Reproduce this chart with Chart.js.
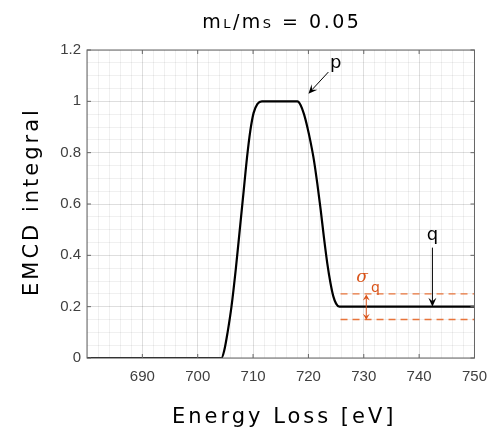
<!DOCTYPE html>
<html>
<head>
<meta charset="utf-8">
<script src="https://cdn.jsdelivr.net/npm/chart.js@4.4.1/dist/chart.umd.min.js"></script>
<style>
body { margin: 0; background: #fff; }
</style>
</head>
<body>
<canvas id="myChart" width="497" height="432"></canvas>
<script>
// data
var energy = [680, 690, 700, 704.3, 704.8, 705.4, 706.1, 706.9, 707.6, 708.3, 708.9, 709.5, 710.1, 710.8, 711.6,
              718.0, 718.6, 719.2, 719.8, 720.4, 721.0, 721.6, 722.2, 722.8, 723.4, 724.0, 724.5, 725.0, 725.6, 735, 750];
var emcd = [0, 0, 0, 0, 0.03, 0.10, 0.20, 0.35, 0.50, 0.65, 0.78, 0.885, 0.955, 0.99, 1.0,
            1.0, 0.985, 0.95, 0.90, 0.84, 0.77, 0.68, 0.58, 0.47, 0.37, 0.29, 0.24, 0.212, 0.2, 0.2, 0.2];

var sigmaX = [725.8, 750];
var sigmaUpper = [0.25, 0.25];
var sigmaLower = [0.15, 0.15];

var xTicks = [690, 700, 710, 720, 730, 740, 750];
var yTicks = [0, 0.2, 0.4, 0.6, 0.8, 1, 1.2];

var black = '#000';
var orange = '#D95319';

function toPoints(xs, ys) {
    var pts = [];
    for (let i = 0; i < xs.length; i++) {
        pts.push({ x: xs[i], y: ys[i] });
    }
    return pts;
}

function isMajor(v, step) {
    var r = v / step;
    return Math.abs(r - Math.round(r)) < 1e-6;
}

function arrow(ctx, x1, y1, x2, y2, color, len, wid) {
    var a = Math.atan2(y2 - y1, x2 - x1);
    ctx.strokeStyle = color;
    ctx.fillStyle = color;
    ctx.lineWidth = 1;
    ctx.beginPath();
    ctx.moveTo(x1, y1);
    ctx.lineTo(x2 - Math.cos(a) * len * 0.6, y2 - Math.sin(a) * len * 0.6);
    ctx.stroke();
    ctx.beginPath();
    ctx.moveTo(x2, y2);
    ctx.lineTo(x2 - Math.cos(a) * len + Math.sin(a) * wid / 2, y2 - Math.sin(a) * len - Math.cos(a) * wid / 2);
    ctx.lineTo(x2 - Math.cos(a) * len * 0.6, y2 - Math.sin(a) * len * 0.6);
    ctx.lineTo(x2 - Math.cos(a) * len - Math.sin(a) * wid / 2, y2 - Math.sin(a) * len + Math.cos(a) * wid / 2);
    ctx.closePath();
    ctx.fill();
}

// box, inner tick marks, titles and arrows
var decorations = {
    id: 'decorations',
    afterDatasetsDraw: function(chart) {
        var ctx = chart.ctx;
        var xs = chart.scales.x, ys = chart.scales.y;
        var a = chart.chartArea;
        ctx.save();

        // box
        ctx.strokeStyle = '#666';
        ctx.lineWidth = 1;
        ctx.strokeRect(a.left, a.top, a.right - a.left, a.bottom - a.top);

        // inner ticks
        ctx.beginPath();
        for (let i = 0; i < xTicks.length; i++) {
            var px = xs.getPixelForValue(xTicks[i]);
            ctx.moveTo(px, a.bottom); ctx.lineTo(px, a.bottom - 4);
            ctx.moveTo(px, a.top); ctx.lineTo(px, a.top + 4);
        }
        for (let i = 0; i < yTicks.length; i++) {
            var py = ys.getPixelForValue(yTicks[i]);
            ctx.moveTo(a.left, py); ctx.lineTo(a.left + 4, py);
            ctx.moveTo(a.right, py); ctx.lineTo(a.right - 4, py);
        }
        ctx.stroke();

        // p arrow
        arrow(ctx, xs.getPixelForValue(723.6), ys.getPixelForValue(1.114),
              xs.getPixelForValue(720.0), ys.getPixelForValue(1.03), black, 9, 8);
        ctx.fillStyle = black;
        ctx.font = '18px "DejaVu Sans"';
        ctx.textAlign = 'center';
        ctx.textBaseline = 'alphabetic';
        ctx.fillText('p', xs.getPixelForValue(724.95), ys.getPixelForValue(1.13));

        // q arrow
        arrow(ctx, xs.getPixelForValue(742.4), ys.getPixelForValue(0.43),
              xs.getPixelForValue(742.4), ys.getPixelForValue(0.2), black, 9, 8);
        ctx.fillStyle = black;
        ctx.fillText('q', xs.getPixelForValue(742.4), ys.getPixelForValue(0.46));

        // sigma q double arrow
        var sx = xs.getPixelForValue(730.45);
        var mid = ys.getPixelForValue(0.2);
        arrow(ctx, sx, mid, sx, ys.getPixelForValue(0.247), orange, 6, 7);
        arrow(ctx, sx, mid, sx, ys.getPixelForValue(0.149), orange, 6, 7);
        ctx.fillStyle = orange;
        ctx.font = 'italic 17px "DejaVu Serif"';
        ctx.fillText('\u03C3', xs.getPixelForValue(729.7), ys.getPixelForValue(0.298));
        ctx.font = '14px "DejaVu Sans"';
        ctx.fillText('q', xs.getPixelForValue(732.1), ys.getPixelForValue(0.258));

        ctx.restore();
    },
    afterDraw: function(chart) {
        var ctx = chart.ctx;
        var a = chart.chartArea;
        var cx = (a.left + a.right) / 2;
        ctx.save();
        ctx.fillStyle = '#000';
        ctx.textBaseline = 'alphabetic';

        // title with small caps L and S
        ctx.letterSpacing = '2.5px';
        var parts = [['m', 19], ['L', 13], ['/m', 19], ['S', 13], [' = 0.05', 19]];
        var total = 0;
        for (let i = 0; i < parts.length; i++) {
            ctx.font = parts[i][1] + 'px "DejaVu Sans"';
            total += ctx.measureText(parts[i][0]).width;
        }
        var x = cx - total / 2 + 1;
        ctx.textAlign = 'left';
        for (let i = 0; i < parts.length; i++) {
            ctx.font = parts[i][1] + 'px "DejaVu Sans"';
            ctx.fillText(parts[i][0], x, 28);
            x += ctx.measureText(parts[i][0]).width;
        }

        // axis titles
        ctx.letterSpacing = '3px';
        ctx.font = '21px "DejaVu Sans"';
        ctx.textAlign = 'center';
        ctx.fillText('Energy Loss [eV]', cx + 3.5, 423);
        ctx.translate(38, 203);
        ctx.rotate(-Math.PI / 2);
        ctx.fillText('EMCD integral', 1.5, 0);
        ctx.restore();
    }
};

var ctx = document.getElementById('myChart').getContext('2d');
var myChart = new Chart(ctx, {
    type: 'line',
    data: {
        datasets: [{
            label: 'EMCD integral',
            data: toPoints(energy, emcd),
            borderColor: black,
            borderWidth: 2.2,
            pointRadius: 0,
            cubicInterpolationMode: 'monotone',
            fill: false
        },
        {
            label: 'upper',
            data: toPoints(sigmaX, sigmaUpper),
            borderColor: '#E8743B',
            borderWidth: 1.3,
            borderDash: [7, 5],
            pointRadius: 0
        },
        {
            label: 'lower',
            data: toPoints(sigmaX, sigmaLower),
            borderColor: '#E8743B',
            borderWidth: 1.3,
            borderDash: [7, 5],
            pointRadius: 0
        }]
    },
    options: {
        responsive: false,
        animation: false,
        layout: { padding: { left: 0, right: 13, top: 50, bottom: 0 } },
        plugins: {
            legend: { display: false },
            tooltip: { enabled: false }
        },
        scales: {
            x: {
                type: 'linear',
                min: 680,
                max: 750,
                afterBuildTicks: function(scale) {
                    var t = [];
                    for (let v = 680; v <= 750; v += 2) t.push({ value: v });
                    scale.ticks = t;
                },
                afterFit: function(scale) { scale.height = 74; },
                grid: {
                    drawTicks: false,
                    color: function(c) {
                        return c.tick && isMajor(c.tick.value, 10) ? 'rgba(0,0,0,0.13)' : 'rgba(0,0,0,0.06)';
                    }
                },
                border: { display: false },
                ticks: {
                    autoSkip: false,
                    maxRotation: 0,
                    padding: 10,
                    color: '#404040',
                    font: { family: 'Liberation Sans', size: 15 },
                    callback: function(v) {
                        return xTicks.indexOf(v) >= 0 ? String(v) : '';
                    }
                }
            },
            y: {
                min: 0,
                max: 1.2,
                afterBuildTicks: function(scale) {
                    var t = [];
                    for (let i = 0; i <= 24; i++) t.push({ value: Math.round(i * 5) / 100 });
                    scale.ticks = t;
                },
                afterFit: function(scale) { scale.width = 87; },
                grid: {
                    drawTicks: false,
                    color: function(c) {
                        return c.tick && isMajor(c.tick.value, 0.2) ? 'rgba(0,0,0,0.13)' : 'rgba(0,0,0,0.06)';
                    }
                },
                border: { display: false },
                ticks: {
                    autoSkip: false,
                    padding: 6,
                    color: '#404040',
                    font: { family: 'Liberation Sans', size: 15 },
                    callback: function(v) {
                        for (let i = 0; i < yTicks.length; i++) {
                            if (Math.abs(yTicks[i] - v) < 1e-6) return String(yTicks[i]);
                        }
                        return '';
                    }
                }
            }
        }
    },
    plugins: [decorations]
});
</script>
</body>
</html>
